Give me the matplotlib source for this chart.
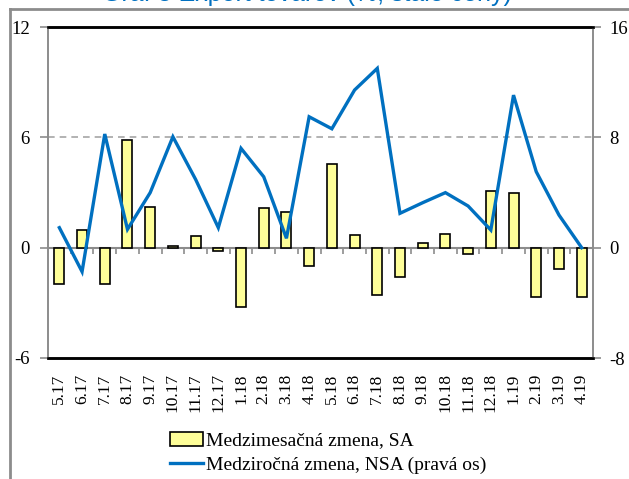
import matplotlib
matplotlib.use("Agg")
import matplotlib.pyplot as plt
from matplotlib.lines import Line2D
import numpy as np

categories = ["5.17", "6.17", "7.17", "8.17", "9.17", "10.17", "11.17", "12.17",
              "1.18", "2.18", "3.18", "4.18", "5.18", "6.18", "7.18", "8.18",
              "9.18", "10.18", "11.18", "12.18", "1.19", "2.19", "3.19", "4.19"]
mom_sa = [-2.0, 0.95, -2.0, 5.85, 2.19, 0.1, 0.65, -0.18,
          -3.24, 2.14, 1.94, -1.0, 4.55, 0.67, -2.59, -1.59,
          0.27, 0.76, -0.34, 3.06, 2.95, -2.68, -1.14, -2.68]
yoy_nsa = [1.45, -1.74, 8.24, 1.33, 3.99, 8.04, 4.95, 1.45,
           7.2, 5.14, 0.68, 9.49, 8.62, 11.43, 13.0, 2.49,
           3.26, 3.99, 3.02, 1.28, 11.06, 5.51, 2.37, 0.0]
left_ticks = [-6, 0, 6, 12]
right_ticks = [-8, 0, 8, 16]
label_bar = "Medzimesačná zmena, SA"
label_line = "Medziročná zmena, NSA (pravá os)"
title = "Graf 8 Export tovarov (%, stále ceny)"

plt.rcParams['font.family'] = ['Liberation Serif', 'DejaVu Serif']
plt.rcParams['axes.unicode_minus'] = False

fig = plt.figure(figsize=(6.29, 4.79), dpi=100)
ax = fig.add_axes([48/629, 1-358/479, (593-48)/629, (358-27)/479])
ax2 = ax.twinx()

x = np.arange(len(categories))
ax.bar(x, mom_sa, width=0.44, color="#FFFF99", edgecolor="black", linewidth=1.2, zorder=3)
ax.set_xlim(-0.5, len(categories) - 0.5)
ax.set_ylim(left_ticks[0], left_ticks[-1])
ax.set_yticks(left_ticks)
ax.axhline(6, color="#A6A6A6", linestyle=(0, (4, 3)), linewidth=1.2, zorder=1)
ax.axhline(0, color="#8C8C8C", linewidth=1.5, zorder=2, clip_on=False)
bounds = x[1:] - 0.5
ax.vlines(bounds, -0.33, 0, color="#8C8C8C", linewidth=1.2, zorder=2)

ax2.plot(x, yoy_nsa, color="#0070C0", linewidth=2.4, solid_joinstyle="miter", zorder=4)
ax2.set_ylim(right_ticks[0], right_ticks[-1])
ax2.set_yticks(right_ticks)

ax.set_xticks(x)
ax.set_xticklabels(categories, rotation=90, fontsize=12.5)
ax.tick_params(axis="x", length=0, pad=11)
ax.tick_params(axis="y", direction="out", length=6, width=1.2, color="#8C8C8C", labelsize=13.5, pad=7)
ax2.tick_params(axis="y", direction="out", length=6, width=1.2, color="#8C8C8C", labelsize=13.5, pad=6)

for a in (ax, ax2):
    a.spines["top"].set_color("black")
    a.spines["top"].set_linewidth(1.8)
    a.spines["bottom"].set_color("black")
    a.spines["bottom"].set_linewidth(1.8)
    a.spines["left"].set_color("#8C8C8C")
    a.spines["left"].set_linewidth(1.2)
    a.spines["right"].set_color("#8C8C8C")
    a.spines["right"].set_linewidth(1.2)

handles = [plt.Rectangle((0, 0), 1, 1, facecolor="#FFFF99", edgecolor="black", linewidth=1.2),
           Line2D([0], [0], color="#0070C0", linewidth=2.4)]
fig.legend(handles, [label_bar, label_line], loc="center left",
           bbox_to_anchor=(160/629, 1-453/479), frameon=False, fontsize=14,
           handlelength=1.7, handletextpad=0.15, labelspacing=0.35, borderpad=0)

# figure border
fig.add_artist(Line2D([10/629, 1], [1-9/479, 1-9/479], color="#8C8C8C", linewidth=2, transform=fig.transFigure))
fig.add_artist(Line2D([10/629, 10/629], [0, 1-9/479], color="#8C8C8C", linewidth=2, transform=fig.transFigure))

fig.text(512/629, 1-1/479, title, ha="right", va="baseline", color="#0070C0",
         fontsize=18, family=["Liberation Sans", "DejaVu Sans"])

fig.savefig("out.png", dpi=100)
